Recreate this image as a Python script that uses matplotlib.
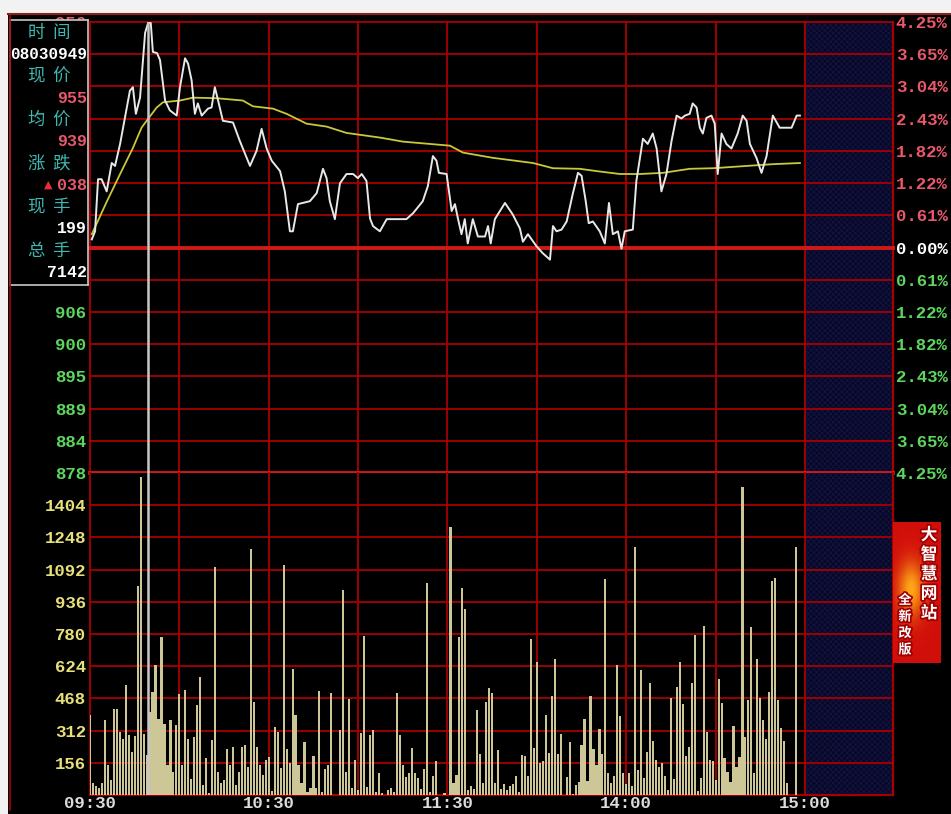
import numpy as np
import matplotlib
matplotlib.use('Agg')
import matplotlib.pyplot as plt
import matplotlib.patheffects as pe
from matplotlib.patches import Rectangle
from matplotlib.lines import Line2D

W, H = 951, 814

# ---- data ----
prev_close = 917
# labels 950..911 sit under the info box in the picture, so they stay blank
price_labels = ['956', '', '', '', '', '', '', '',
                '', '906', '900', '895', '889', '884', '878']
pct_labels = ['4.25%', '3.65%', '3.04%', '2.43%', '1.82%', '1.22%', '0.61%', '0.00%',
              '0.61%', '1.22%', '1.82%', '2.43%', '3.04%', '3.65%', '4.25%']
vol_ticks = [156, 312, 468, 624, 780, 936, 1092, 1248, 1404]
time_labels = ['09:30', '10:30', '11:30', '14:00', '15:00']
time_pos = [0, 60, 120, 180, 240]
cursor_min = 19.5

price_min = [0.6, 1.7, 2.7, 3.9, 5.6, 7.3, 8.4, 10.1, 13.4, 14.4, 15.4, 16.8, 18.5, 19.5, 20.4,
             21.1, 22.5, 23.5, 25.2, 26.8, 29.1, 30.2, 31.9, 32.9, 34.1, 35.2, 36.2, 37.5, 39.6,
             40.8, 41.9, 43.0, 44.6, 48.0, 50.3, 53.7, 55.9, 57.6, 59.3, 61.0, 63.8, 65.4, 67.1,
             68.1, 69.8, 73.8, 76.1, 78.2, 79.4, 80.5, 82.2, 83.9, 86.1, 88.3, 89.9, 91.2, 92.8,
             94.0, 95.0, 97.3, 99.6, 106.2, 108.4, 111.7, 113.4, 115.1, 116.3, 117.1, 119.7,
             121.4, 122.5, 123.5, 124.7, 125.8, 126.8, 128.5, 130.2, 132.6, 133.6, 134.5, 135.9,
             139.3, 141.9, 144.3, 145.3, 147.0, 149.9, 152.0, 154.4, 155.4, 156.6, 158.3, 160.0,
             162.1, 163.8, 165.0, 166.4, 167.4, 168.8, 171.1, 172.8, 174.2, 175.5, 177.2, 178.4,
             179.5, 182.2, 183.4, 185.6, 187.2, 188.9, 190.2, 191.8, 193.5, 195.2, 196.9, 198.5,
             199.7, 201.3, 202.3, 203.6, 204.7, 205.7, 206.9, 208.6, 209.7, 210.7, 212.0, 213.6,
             215.3, 217.4, 219.1, 220.4, 221.5, 223.7, 225.4, 227.1, 229.2, 231.5, 235.5, 237.2,
             238.3]
price_val = [918.4, 919.8, 928.8, 928.8, 926.7, 931.6, 931.1, 934.9, 944.1, 944.7, 940.1, 942.9,
             954.1, 955.8, 955.8, 950.8, 950.6, 949.4, 942.4, 940.7, 939.8, 944.7, 949.7, 948.8,
             945.9, 940.1, 941.9, 939.8, 941.0, 941.2, 944.7, 942.4, 938.9, 938.6, 935.4, 931.1,
             933.7, 937.5, 934.1, 932.0, 930.2, 926.7, 919.8, 919.8, 924.5, 925.0, 926.4, 930.6,
             929.0, 925.0, 921.9, 928.1, 929.7, 929.7, 929.0, 929.7, 928.5, 922.0, 920.7, 919.8,
             921.9, 921.9, 922.9, 925.0, 927.6, 932.8, 932.0, 929.9, 929.7, 923.3, 924.5, 922.0,
             919.3, 921.9, 917.7, 921.9, 918.9, 918.9, 920.7, 917.7, 921.9, 924.7, 922.7, 920.3,
             918.0, 919.3, 917.2, 916.0, 914.9, 920.7, 919.8, 920.1, 921.5, 926.4, 929.9, 929.4,
             925.0, 921.2, 921.5, 919.8, 917.7, 924.7, 919.3, 919.8, 916.8, 919.8, 920.1, 928.5,
             935.8, 934.9, 936.7, 934.1, 926.7, 929.7, 935.4, 939.8, 939.3, 939.8, 940.1, 941.9,
             941.2, 937.7, 936.7, 939.4, 939.8, 938.4, 929.7, 936.7, 934.9, 934.1, 936.7, 939.8,
             938.9, 934.9, 932.5, 929.9, 932.8, 939.8, 937.7, 937.7, 939.8, 939.8]

avg_min = [0.6, 5.7, 10.1, 14.4, 17.3, 19.0, 22.4, 24.5, 30.2, 34.6, 42.5, 51.3, 54.7, 61.4,
           66.0, 72.7, 79.4, 86.1, 97.3, 105.0, 120.8, 125.2, 135.2, 148.7, 155.4, 164.4,
           170.1, 177.9, 184.6, 192.3, 201.3, 209.1, 220.5, 229.2, 238.3]
avg_val = [919.3, 925.0, 929.7, 934.2, 937.7, 938.9, 941.2, 942.1, 942.4, 942.9, 942.8, 942.4,
           941.4, 941.0, 940.1, 938.4, 937.9, 936.8, 936.0, 935.3, 934.6, 933.4, 932.5, 931.6,
           930.7, 930.6, 930.2, 929.7, 929.7, 929.9, 930.6, 930.7, 931.1, 931.4, 931.6]

vol_am = [386, 60, 43, 35, 56, 365, 145, 72, 418, 418, 305, 273, 535, 290, 209, 285, 1013, 1539,
          297, 193, 402, 498, 630, 370, 767, 346, 145, 365, 113, 338, 490, 145, 511, 273, 76, 281,
          434, 574, 48, 177, 8, 265, 1105, 113, 56, 72, 225, 145, 233, 48, 113, 233, 241, 137,
          1190, 450, 233, 145, 96, 169, 185,
          20, 330, 305, 132, 1113, 225, 156, 611, 386, 145, 56, 257, 16, 32, 190, 32, 502, 16,
          124, 145, 494, 0, 0, 314, 994, 113, 466, 32, 169, 24, 301, 772, 40, 290, 317, 16, 105,
          8, 0, 24, 32, 16, 494, 290, 145, 88, 105, 230, 105, 80, 27, 124, 1029, 16, 92, 166, 0,
          0, 8, 0]
vol_pm = [1298, 56, 96, 767, 1005, 900, 24, 43, 27, 410, 201, 56, 450, 518, 494, 56, 217, 27, 53,
          24, 43, 53, 92, 16, 193, 188, 92, 756, 230, 646, 153, 166, 386, 204, 478, 659, 198, 294,
          0, 88, 257, 5, 48, 64, 241, 370, 69, 482, 225, 145, 318, 198, 1045, 108, 56, 92, 632,
          381, 105, 53,
          105, 43, 1201, 121, 606, 80, 209, 545, 262, 169, 137, 156, 92, 24, 471, 76, 523, 643,
          442, 188, 233, 545, 777, 21, 80, 818, 305, 169, 166, 72, 563, 445, 177, 113, 64, 333,
          134, 185, 1491, 281, 458, 812, 105, 659, 471, 362, 269, 498, 1037, 1050, 458, 326, 262,
          56, 0, 0, 1201, 0, 0, 0]
volume = vol_am + vol_pm

info_names = ['时  间', '现  价', '均  价', '涨  跌', '现  手', '总  手']
info_values = ['08030949', '955', '939', '038', '199', '7142']

# ---- colours ----
RED_GRID = '#a80000'
RED_THICK = '#d01818'
UP = '#e8586a'
DOWN = '#5cd65c'
VOLC = '#e8e07a'
TEAL = '#3fb8b0'

plt.rcParams['hatch.linewidth'] = 0.6
MONO = 'Liberation Mono'
CJK = ['Noto Sans CJK SC', 'DejaVu Sans']


def box(x0, y0, x1, y1):
    return [x0 / W, 1 - y1 / H, (x1 - x0) / W, (y1 - y0) / H]


def ftext(x, y, s, **kw):
    return fig.text(x / W, 1 - y / H, s, **kw)


fig = plt.figure(figsize=(W / 100, H / 100), dpi=100, facecolor='black')

x_end = 240 * (893 - 90) / (805 - 90)
lo = prev_close * (1 - 0.0425)
hi = prev_close * (1 + 0.0425)
price_ticks = [prev_close * (1 + k * 0.0425 / 7) for k in range(7, -8, -1)]

ax_p = fig.add_axes(box(90, 22, 893, 473), facecolor='black')
ax_v = fig.add_axes(box(90, 473, 893, 795), facecolor='black')

for ax in (ax_p, ax_v):
    ax.set_xlim(0, x_end)
    for s in ax.spines.values():
        s.set_visible(False)
    ax.add_patch(Rectangle((240, -1e4), x_end - 240, 2e4, facecolor='#070726',
                           edgecolor='#141444', hatch='xxxxxx', lw=0, zorder=0))
    for m in range(0, 241, 30):
        ax.axvline(m, color=RED_GRID, lw=1.3, zorder=1, clip_on=False)
    ax.axvline(x_end, color=RED_GRID, lw=1.6, zorder=1, clip_on=False)
    ax.axvline(cursor_min, color='#c8c8c8', lw=1.8, zorder=4)

# price panel
ax_p.set_ylim(lo, hi)
for i, t in enumerate(price_ticks):
    thick = i in (7, 14)
    ax_p.axhline(t, color=RED_THICK if thick else RED_GRID, lw=2.8 if thick else 1.3,
                 zorder=1, clip_on=False)
ax_p.plot(avg_min, avg_val, color='#c8c83a', lw=1.3, zorder=3)
ax_p.plot(price_min, price_val, color='#e8e8e8', lw=1.4, zorder=3)
ax_p.set_xticks([])
ax_p.set_yticks(price_ticks)
ax_p.set_yticklabels(price_labels, fontfamily=MONO, fontweight='bold', fontsize=12.5)
ax_p.tick_params(axis='y', length=0, pad=3)
for i, lab in enumerate(ax_p.get_yticklabels()):
    lab.set_color(UP if i < 7 else ('white' if i == 7 else DOWN))

ax_r = ax_p.twinx()
ax_r.set_ylim(lo, hi)
for s in ax_r.spines.values():
    s.set_visible(False)
ax_r.set_yticks(price_ticks)
ax_r.set_yticklabels(pct_labels, fontfamily=MONO, fontweight='bold', fontsize=12.5)
ax_r.tick_params(axis='y', length=0, pad=2)
for i, lab in enumerate(ax_r.get_yticklabels()):
    lab.set_color(UP if i < 7 else ('white' if i == 7 else DOWN))

# volume panel
ax_v.set_ylim(0, 1560)
for t in vol_ticks:
    ax_v.axhline(t, color=RED_GRID, lw=1.3, zorder=1)
ax_v.axhline(0, color=RED_GRID, lw=1.5, zorder=1, clip_on=False)
ax_v.bar(np.arange(len(volume)), volume, width=0.72, color='#cdc697', lw=0, zorder=2)
ax_v.set_yticks(vol_ticks)
ax_v.set_yticklabels([str(v) for v in vol_ticks], fontfamily=MONO, fontweight='bold',
                     fontsize=12.5, color=VOLC)
ax_v.tick_params(axis='y', length=0, pad=3)
ax_v.set_xticks(time_pos)
ax_v.set_xticklabels(time_labels, fontfamily=MONO, fontweight='bold', fontsize=12.5,
                     color='#dcdcdc')
ax_v.tick_params(axis='x', length=0, pad=1)

# info box (covers the upper price labels, as in the picture)
ax_i = fig.add_axes(box(10, 20, 88, 285), facecolor='black')
ax_i.set_xticks([])
ax_i.set_yticks([])
for s in ax_i.spines.values():
    s.set_color('#c8c8c8')
    s.set_linewidth(1.2)
val_colors = ['white', UP, UP, UP, 'white', 'white']
for k, (name, val) in enumerate(zip(info_names, info_values)):
    y0 = 33 + k * 43.6
    ftext(49, y0, name, family=CJK, fontsize=12.5, color=TEAL, ha='center', va='center')
    ftext(87, y0 + 21.5, val, family=MONO, fontweight='bold', fontsize=12 if k else 11.5,
          color=val_colors[k], ha='right', va='center')
ftext(52, 185, '▲', family=['DejaVu Sans'], fontsize=8, color='#e83030', ha='right',
      va='center')

# advertisement banner
ax_a = fig.add_axes(box(893, 522, 940, 663))
gx, gy = np.meshgrid(np.linspace(-1, 1, 40), np.linspace(-1, 1, 60))
glow = np.exp(-((gx + 0.25) ** 2 / 0.3 + (gy + 0.05) ** 2 / 0.15))
img = np.zeros((60, 40, 3))
img[..., 0] = 0.82 + 0.18 * glow
img[..., 1] = 0.06 + 0.6 * glow
img[..., 2] = 0.04 + 0.05 * glow
ax_a.imshow(img, aspect='auto')
ax_a.axis('off')
outline = [pe.withStroke(linewidth=2.5, foreground='#a00000')]
for k, ch in enumerate('大智慧网站'):
    ftext(929, 535 + k * 19.5, ch, family=CJK, fontweight='bold', fontsize=12, color='white',
          ha='center', va='center', path_effects=outline)
for k, ch in enumerate('全新改版'):
    ftext(905, 600 + k * 16.5, ch, family=CJK, fontweight='bold', fontsize=9.5, color='white',
          ha='center', va='center', path_effects=outline)

# window frame
fig.patches.append(Rectangle((0, 1 - 13 / H), 1, 13 / H, transform=fig.transFigure,
                             facecolor='#f2f2f2', lw=0, zorder=20))
fig.patches.append(Rectangle((0, 0), 8 / W, 1, transform=fig.transFigure,
                             facecolor='#f2f2f2', lw=0, zorder=20))
fig.lines.append(Line2D([8 / W, 1], [1 - 14 / H, 1 - 14 / H], transform=fig.transFigure,
                        color='#8a2020', lw=1.5, zorder=21))
fig.lines.append(Line2D([10 / W, 10 / W], [0.005, 1 - 14 / H], transform=fig.transFigure,
                        color=RED_GRID, lw=1.2, zorder=0.5))

fig.savefig('out.png', dpi=100, facecolor='black')
